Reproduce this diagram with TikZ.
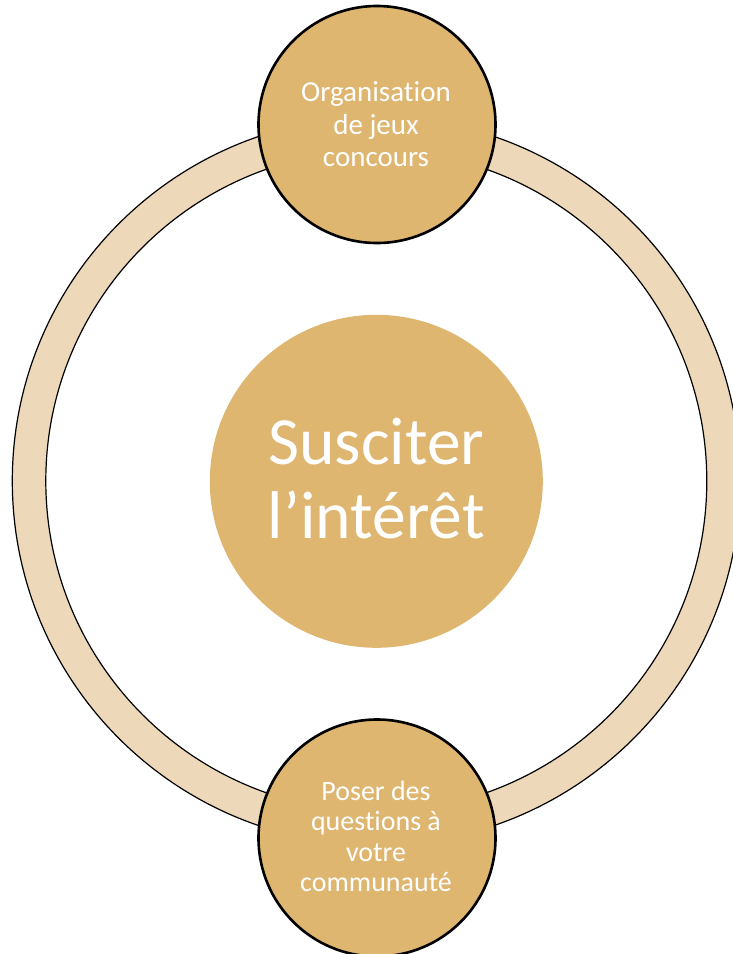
\documentclass[tikz,border=0pt]{standalone}
\usepackage{fontspec}
\setmainfont{Carlito}[Ligatures=NoCommon]
\definecolor{gold}{RGB}{222,182,112}
\definecolor{sand}{RGB}{237,216,186}
\begin{document}
\begin{tikzpicture}[x=1pt,y=-1pt,
  ringstyle/.style={fill=sand,draw=black,line width=1.2pt,even odd rule},
  hub/.style={circle,fill=gold,minimum size=333pt,inner sep=0pt},
  sat/.style={circle,fill=gold,draw=black,line width=2.6pt,minimum size=237pt,inner sep=0pt},
  bigtxt/.style={text=white,font=\fontsize{67.5}{74}\selectfont,align=center,anchor=base},
  smalltxt/.style={text=white,font=\fontsize{29}{32.5}\selectfont,align=center,anchor=base}]
\useasboundingbox (0,0) rectangle (733,954);
\clip (0,0) rectangle (733,954);
\coordinate (c) at (376.3,481);
\path[ringstyle] (c) circle[radius=364] (c) circle[radius=330.5];
\node[hub] (hub) at (376.3,481.3) {};
\node[sat] (top) at (377,124.5) {};
\node[sat] (bot) at (377,838) {};
\node[bigtxt] (hubtext) at (376.3,538) {Susciter\\l’intérêt};
\node[smalltxt] (toptext) at (376,166.7) {Organisation\\de jeux\\concours};
\node[smalltxt,font=\fontsize{28}{30.5}\selectfont] (bottext) at (376,891.7) {Poser des\\questions à\\votre\\communauté};
\end{tikzpicture}
\end{document}
